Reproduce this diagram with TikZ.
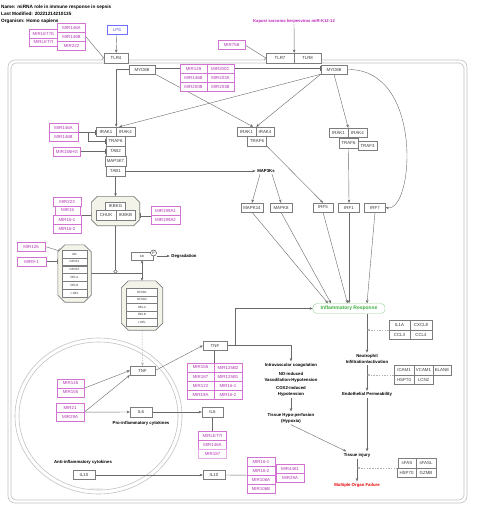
\documentclass[tikz,border=0pt]{standalone}
\usepackage{fontspec}
\setmainfont{Liberation Sans}
\usetikzlibrary{positioning,calc,arrows.meta}

\definecolor{genegray}{RGB}{125,125,125}
\definecolor{genetext}{RGB}{60,60,60}
\definecolor{mirline}{RGB}{210,115,210}
\definecolor{mirtext}{RGB}{180,50,180}
\definecolor{edgegray}{RGB}{105,105,105}
\definecolor{memgray}{RGB}{195,195,195}
\definecolor{cplxfill}{RGB}{243,243,233}
\definecolor{lpsblue}{RGB}{110,110,255}
\definecolor{inflgreen}{RGB}{60,175,60}
\definecolor{kshvmag}{RGB}{190,40,190}
\definecolor{mofred}{RGB}{230,0,0}

\newcommand{\genefont}{\fontsize{4.4}{5}\selectfont}
\newcommand{\notefont}{\fontsize{4.3}{6}\selectfont\bfseries}
\newcommand{\subfont}{\fontsize{3}{3.5}\selectfont}
\newcommand{\headfont}{\fontsize{4.7}{5}\selectfont\bfseries}

% octagon round a complex node
\newcommand{\cplxoct}[2]{%
  \filldraw[draw=genegray, fill=cplxfill, line width=0.6pt]
    ($(#1.north west)+(#2,0)$) -- ($(#1.north east)+(-#2,0)$) -- ($(#1.north east)+(0,#2)$)
    -- ($(#1.south east)+(0,-#2)$) -- ($(#1.south east)+(-#2,0)$) -- ($(#1.south west)+(#2,0)$)
    -- ($(#1.south west)+(0,-#2)$) -- ($(#1.north west)+(0,#2)$) -- cycle;}

\pgfdeclarelayer{back}
\pgfdeclarelayer{edges}
\pgfsetlayers{back,edges,main}

\begin{document}
\begin{tikzpicture}[x=1pt, y=-1pt,
    gene/.style={draw=genegray, fill=white, text=genetext, inner sep=0pt, minimum height=9pt, minimum width=#1, font=\genefont},
    gene/.default=20,
    mir/.style={draw=mirline, fill=white, text=mirtext, inner sep=0pt, minimum height=9pt, minimum width=#1, font=\genefont},
    mir/.default=27,
    sub/.style={draw=genegray, fill=white, text=genetext, inner sep=0pt, minimum height=7.6pt, minimum width=#1, font=\subfont},
    cplx/.style={inner sep=0pt},
    note/.style={font=\notefont, align=center, inner sep=1.5pt},
    head/.style={font=\headfont, anchor=west, inner sep=0pt},
    arr/.style={draw=edgegray, line width=0.4pt, -{Stealth[length=3.2pt,width=2.6pt]}},
    inh/.style={draw=edgegray, line width=0.4pt, -{Bar[width=5pt]}},
    darr/.style={draw=gray!60, line width=0.5pt, dash pattern=on 1.5pt off 1.2pt, -{Stealth[length=3.2pt,width=2.6pt]}},
    link/.style={draw=edgegray, line width=0.4pt},
    memline/.style={draw=memgray, line width=0.6pt}]

\begin{pgfonlayer}{back}
\path[fill=white] (0,0) rectangle (480,515);
\draw[memline, rounded corners=7pt] (8,60) rectangle (467,503);
\draw[memline, rounded corners=5pt] (11,63) rectangle (464,500);
\draw[memline] (98.5,416) ellipse [x radius=83.5pt, y radius=78pt];
\draw[memline] (98.5,416) ellipse [x radius=79.5pt, y radius=74pt];
\end{pgfonlayer}

\node[head] (ttl) at (1,7) {Name: miRNA role in immune response in sepsis};
\node[head] (mod) at (1,14) {Last Modified: 20221214210135};
\node[head] (org) at (1,21) {Organism: Homo sapiens};

% receptors
\node[gene=20, draw=lpsblue, text=lpsblue!85!black] (lps) at (117,29.5) {LPS};
\node[mir=29, minimum height=8.5] (let7e) at (43.5,33.5) {MIRLET7E};
\node[mir=29, minimum height=8.5] (let7i) at (43.5,42) {MIRLET7I};
\node[mir=28] (m146a) at (71.5,27.5) {MIR146A};
\node[mir=28] (m146b) at (71.5,36.5) {MIR146B};
\node[mir=28] (m222) at (71.5,45.5) {MIR222};
\node[gene=24, minimum height=10] (tlr4) at (116,58) {TLR4};
\node[mir=27] (m758) at (231.5,45) {MIR758};
\node[font=\fontsize{4.2}{5}\selectfont\bfseries, text=kshvmag, inner sep=1pt] (kshv) at (294,21) {Kaposi sarcoma herpesvirus miR-K12-12};
\node[gene=28, minimum height=10] (tlr7) at (280,58) {TLR7};
\node[gene=27, minimum height=10] (tlr8) at (307.5,58) {TLR8};

\node[gene=26] (myd88l) at (142,69.5) {MYD88};
\node[gene=26] (myd88r) at (334,69.5) {MYD88};
\node[mir] (m149) at (193.5,68.5) {MIR149};
\node[mir] (m200c) at (220.5,68.5) {MIR200C};
\node[mir] (m146bb) at (193.5,77.5) {MIR146B};
\node[mir] (m203a) at (220.5,77.5) {MIR203A};
\node[mir] (m200b) at (193.5,86.5) {MIR200B};
\node[mir] (m203b) at (220.5,86.5) {MIR203B};

% IRAK groups
\node[gene=20] (irak1l) at (106,131.5) {IRAK1};
\node[gene=19] (irak4l) at (125.5,131.5) {IRAK4};
\node[gene=19, minimum height=10] (traf6l) at (115.5,141) {TRAF6};
\node[gene=19, minimum height=10] (tab2l) at (115.5,151) {TAB2};
\node[gene=21, minimum height=10] (map3k7) at (115.5,161) {MAP3K7};
\node[gene=19, minimum height=10] (tab1) at (115.5,171) {TAB1};
\node[mir=29] (m146al) at (63.5,127.5) {MIR146A};
\node[mir=29] (m146bl) at (63.5,136.5) {MIR146B};
\node[mir=27] (m155hg) at (67,151.5) {MIR155HG};

\node[gene=19] (irak1m) at (246.5,131.5) {IRAK1};
\node[gene=18] (irak4m) at (265,131.5) {IRAK4};
\node[gene=19, minimum height=9.5] (traf6m) at (257,141) {TRAF6};
\node[gene=19] (irak1r) at (338.5,132.5) {IRAK1};
\node[gene=19] (irak4r) at (357.5,132.5) {IRAK4};
\node[gene=19, minimum height=9.5] (traf6r) at (348.5,143) {TRAF6};
\node[gene=19] (traf3) at (367.5,146) {TRAF3};

\node[note] (map3ks) at (266,171) {MAP3Ks};
\node[gene=22] (mapk14) at (252,207.5) {MAPK14};
\node[gene=22] (mapk8) at (281,207.5) {MAPK8};
\node[gene=20] (irf5) at (323,207.5) {IRF5};
\node[gene=21] (irf1) at (349,207.5) {IRF1};
\node[gene=21] (irf7) at (375,207.5) {IRF7};

% IKK complex
\node[cplx, minimum width=48, minimum height=29] (ikk) at (115.5,211) {};
\cplxoct{ikk}{6}
\node[gene=20, minimum height=8.5] (ikbkg) at (115.5,206) {IKBKG};
\node[gene=20, minimum height=9.5] (chuk) at (106,215) {CHUK};
\node[gene=19, minimum height=9.5] (ikbkb) at (125.5,215) {IKBKB};
\node[mir=28] (m223) at (67,202) {MIR223};
\node[mir=25] (m15) at (67.5,210.5) {MIR15};
\node[mir=28] (m161) at (67,219.5) {MIR16-1};
\node[mir=28] (m162) at (67,228.5) {MIR16-2};
\node[mir=29] (m199a1) at (165.5,211) {MIR199A1};
\node[mir=29] (m199a2) at (165.5,220) {MIR199A2};

% NF-kB complexes
\node[mir=28] (m126) at (31,246.5) {MIR126};
\node[mir=29] (m91) at (31.5,261.5) {MIR9-1};
\node[cplx, minimum width=33, minimum height=57] (nfkbl) at (74.5,273.5) {};
\cplxoct{nfkbl}{7}
\node[sub=25] (ikbl) at (74.5,254) {IkB};
\node[sub=25] (nfkb1l) at (74.5,261.8) {NFKB1};
\node[sub=25] (nfkb2l) at (74.5,269.6) {NFKB2};
\node[sub=25] (relal) at (74.5,277.4) {RELA};
\node[sub=25] (relbl) at (74.5,285.2) {RELB};
\node[sub=25] (crell) at (74.5,293) {c-REL};

\node[sub=22, minimum height=8] (ikb) at (142,256) {IkB};
\node[circle, draw=black!80, fill=white, inner sep=0pt, minimum size=6pt, font=\fontsize{3.5}{4}\selectfont] (phos) at (153.5,253) {P};
\node[note] (degr) at (184,256) {Degradation};
\node[circle, draw=edgegray, fill=white, inner sep=0pt, minimum size=3.5pt] (cat) at (115.5,271.5) {};
\coordinate (jn) at (142,273);

\node[cplx, minimum width=41, minimum height=49] (nfkbr) at (142,305.5) {};
\cplxoct{nfkbr}{7}
\node[sub=31] (nfkb1r) at (142,292) {NFKB1};
\node[sub=31] (nfkb2r) at (142,299.5) {NFKB2};
\node[sub=31] (relar) at (142,307) {RELA};
\node[sub=31] (relbr) at (142,314.5) {RELB};
\node[sub=31] (crelr) at (142,322) {c-REL};

% cytokines
\node[gene=24] (tnfr) at (215,345.5) {TNF};
\node[gene=25] (tnfl) at (142.5,370.5) {TNF};
\node[mir=27] (m155t) at (200.5,367.5) {MIR155};
\node[mir=28] (m125b2) at (228,367.5) {MIR125B2};
\node[mir=27] (m187t) at (200.5,376.5) {MIR187};
\node[mir=28] (m125b1) at (228,376.5) {MIR125B1};
\node[mir=27] (m122) at (200.5,385.5) {MIR122};
\node[mir=28] (m161t) at (228,385.5) {MIR16-1};
\node[mir=27] (m19a) at (200.5,394.5) {MIR19A};
\node[mir=28] (m162t) at (228,394.5) {MIR16-2};
\node[mir=27] (m145) at (70.5,383.5) {MIR145};
\node[mir=27] (m155n) at (70.5,392.5) {MIR155};
\node[mir=28] (m21) at (70,407.5) {MIR21};
\node[mir=28] (m29a) at (70,416.5) {MIR29A};
\node[gene=22, minimum height=10] (il6l) at (141,412) {IL6};
\node[gene=21, minimum height=10] (il6r) at (212.5,412) {IL6};
\node[note] (proinf) at (141,423) {Pro-inflammatory cytokines};
\node[mir=28] (ml7i) at (212.5,435.5) {MIRLET7I};
\node[mir=28] (m146ai) at (212.5,444.5) {MIR146A};
\node[mir=28, draw=mirline!60] (m187i) at (212.5,453.5) {MIR187};
\node[note] (antiinf) at (83,462.5) {Anti-inflammatory cytokines};
\node[gene=22] (il10l) at (84,475) {IL10};
\node[gene=22] (il10r) at (214,475) {IL10};
\node[mir=28] (m161b) at (261,461.5) {MIR16-1};
\node[mir=28] (m162b) at (261,470.5) {MIR16-2};
\node[mir=28] (m106a) at (261,479.5) {MIR106A};
\node[mir=28] (m106b) at (261,488.5) {MIR106B};
\node[mir=28] (m4461) at (290,468.5) {MIR4461};
\node[mir=28] (m29ab) at (290,477.5) {MIR29A};
\node[font=\fontsize{3.5}{4}\selectfont, text=gray!40] (nucl) at (97,489) {Nucleus};

% outcomes
\node[draw=inflgreen!55, fill=white, rounded corners=4pt, text=inflgreen, font=\fontsize{5}{6}\selectfont\bfseries, minimum width=72, minimum height=10, inner sep=0pt] (infl) at (349,308.5) {Inflammatory Response};
\node[gene=21, minimum height=9.5] (il1a) at (399.5,325) {IL1A};
\node[gene=22, minimum height=9.5] (cxcl8) at (421,325) {CXCL8};
\node[gene=21, minimum height=9.5] (ccl3) at (399.5,334.5) {CCL3};
\node[gene=22, minimum height=9.5] (ccl4) at (421,334.5) {CCL4};
\node[gene=20, minimum height=9.5] (icam) at (404,370) {ICAM1};
\node[gene=19, minimum height=9.5] (vcam) at (423.5,370) {VCAM1};
\node[gene=18, minimum height=9.5] (elane) at (442,370) {ELANE};
\node[gene=20, minimum height=9.5] (hsp70a) at (404,379.5) {HSP70};
\node[gene=19, minimum height=9.5] (lcn2) at (423.5,379.5) {LCN2};
\node[gene=18, minimum height=9.5] (sfas) at (407,463) {sFAS};
\node[gene=20, minimum height=9.5] (sfasl) at (426,463) {sFASL};
\node[gene=19, minimum height=9.5] (hsp70b) at (406.5,472.5) {HSP70};
\node[gene=20, minimum height=9.5] (gzmb) at (426,472.5) {GZMB};

\node[note] (coag) at (291,365) {Intravascular coagulation};
\node[note] (noind) at (291,377) {NO-induced\\Vasodilation-Hypotension};
\node[note] (cox2) at (291,391.5) {COX2-induced\\Hypotension};
\node[note] (hypox) at (291,418) {Tissue Hypo-perfusion\\(Hypoxia)};
\node[note] (neutro) at (367,359) {Neutrophil\\Infiltration/activation};
\node[note] (endo) at (367,394.5) {Endothelial Permeability};
\node[note] (injury) at (357,455) {Tissue injury};
\node[note, text=mofred] (mof) at (357,485) {Multiple Organ Failure};

\begin{pgfonlayer}{edges}
\draw[arr] (lps) -- (tlr4);
\draw[inh] (m146b.east) -- (tlr4.west);
\draw[inh] (m758.east) -- (tlr7.west);
\draw[arr] (kshv) -- (tlr7.north east);
\draw[inh] (m149.west) -- (m149.west -| myd88l.east);
\draw[inh] (m200c.east) -- (m200c.east -| myd88r.west);
\draw[arr] (myd88l.west) -| (irak1l.north east);
\draw[arr] (myd88r.south west) -- ([xshift=3pt]irak1l.north east);
\draw[arr] (myd88l.south east) -- ([xshift=-3pt]irak1m.north east);
\draw[arr] (myd88r.south west) -- (irak1m.north east);
\draw[arr] (myd88r.south) -- (irak1r.north east);
\draw[arr] (myd88r.east) .. controls (424,68) and (414,212) .. (irf7.east);
\draw[inh] (m146al.south east) -- (m146al.south east -| irak1l.west);
\draw[inh] (m146al.south east) -- ++(10,0) |- (traf6l.west);
\draw[inh] (m155hg.east) -- (m155hg.east -| tab2l.west);
\draw[arr] (tab1.east) -- (map3ks.west);
\draw[arr] (tab1.south) -- (ikk.north);
\draw[inh] (m161.north east) -- (m161.north east -| ikk.west);
\draw[inh] (m199a1.south west) -- (m199a1.south west -| ikk.east);
\draw[inh] (m126.east) -- ($(nfkbl.north west)+(1,6)$);
\draw[inh] (m91.east) -- (m91.east -| nfkbl.west);
\draw[link] (ikk.south) -- (cat.north);
\draw[link] (nfkbl.east |- jn) -- (jn);
\draw[arr] (jn) -- (ikb.south);
\draw[arr] (jn) -- (nfkbr.north);
\draw[arr] (phos.east |- ikb.east) -- (degr.west);
\draw[darr] (nfkbr.south) -- (tnfl.north);
\draw[arr] (tnfl.east) -- (tnfr.west);
\draw[arr] (tnfr.east) -| (coag.north);
\draw[arr] (tnfr.east) -- ++(8,0) |- (infl.west);
\draw[inh] (m155t.north east) -- (m155t.north east |- tnfr.south);
\draw[arr] (m145.south east) -- (tnfl.west);
\draw[arr] (m21.south east) -- (tnfl.south west);
\draw[arr] (m21.south east) -- (il6l.west);
\draw[arr] (il6l) -- (il6r);
\draw[inh] (ml7i.north) -- (il6r.south);
\draw[arr] (il10l) -- (il10r);
\draw[inh] (m162b.south west) -- (il10r.east);
\draw[arr] ([xshift=-6pt]map3ks.south) -- (mapk14.north);
\draw[arr] ([xshift=6pt]map3ks.south) -- (mapk8.north);
\draw[arr] (traf6m.south east) -- (irf5.north);
\draw[arr] (traf6r.south) -- (irf1.north);
\draw[arr] (mapk14.south) -- ([xshift=-21pt]infl.north);
\draw[arr] (mapk8.south) -- ([xshift=-18pt]infl.north);
\draw[arr] (irf5.south) -- ([xshift=-1.5pt]infl.north);
\draw[arr] (irf1.south) -- (infl.north);
\draw[arr] (irf7.south) -- ([xshift=18pt]infl.north);
\draw[arr] ([xshift=18pt]infl.south) -- (neutro.north);
\draw[arr] (neutro.south) -- (endo.north);
\draw[arr] (endo.south) -- ([xshift=10pt]injury.north);
\draw[arr] (injury.south) -- (mof.north);
\draw[arr] (cox2.south) -- (hypox.north);
\draw[arr] (hypox.south) -- ([xshift=4pt]injury.north west);
\draw[darr] (il1a.south west) -- (il1a.south west -| neutro.north);
\draw[darr] (icam.south west) -- (icam.south west -| endo.north);
\draw[darr] (sfas.south west) -- (sfas.south west -| injury.south);
\end{pgfonlayer}

\useasboundingbox (0,0) rectangle (480,515);
\end{tikzpicture}
\end{document}
